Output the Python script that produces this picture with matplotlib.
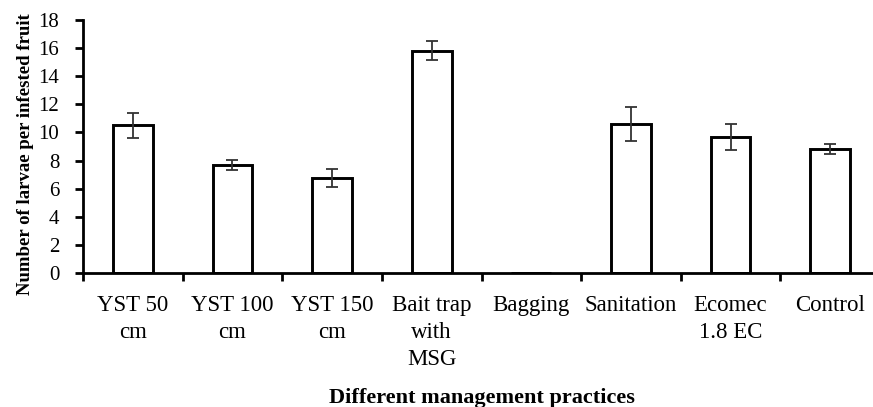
"""Larvae per infested fruit under different management practices"""
import matplotlib.pyplot as plt
import numpy as np

plt.rcParams["font.family"] = ["Liberation Serif", "DejaVu Serif"]

# data
practices = [
    "YST 50\ncm",
    "YST 100\ncm",
    "YST 150\ncm",
    "Bait trap\nwith\nMSG",
    "Bagging",
    "Sanitation",
    "Ecomec\n1.8 EC",
    "Control",
]
larvae = [10.5, 7.7, 6.75, 15.8, 0, 10.6, 9.7, 8.8]
errors = [0.9, 0.35, 0.63, 0.68, 0, 1.24, 0.93, 0.36]

fig = plt.figure(figsize=(8.73, 4.07), dpi=100)
ax = fig.add_axes([83 / 873, 1 - 273 / 407, 797 / 873, 253 / 407])

x = np.arange(len(practices))
ax.bar(x, larvae, width=0.4, color="white", edgecolor="black", linewidth=2.1)

# 誤差棒（値のある処理のみ）
has_err = np.array(errors) > 0
ax.errorbar(x[has_err], np.array(larvae)[has_err], yerr=np.array(errors)[has_err],
            fmt="none", ecolor="#333333", elinewidth=1.3, capsize=4.5, capthick=1.3)

ax.set_xlim(-0.5, 7.5)
ax.set_ylim(0, 18)
ax.set_yticks(range(0, 19, 2))
ax.set_xticks(x)
ax.set_xticklabels(practices, fontsize=16.5, linespacing=1.38)
ax.set_xticks(np.arange(-0.5, 8, 1), minor=True)
ax.tick_params(axis="x", which="major", length=0, pad=16)
ax.tick_params(axis="x", which="minor", length=6, width=2, direction="out")
ax.tick_params(axis="y", labelsize=15, length=6, width=2, direction="out", pad=11)

for side in ["top", "right"]:
    ax.spines[side].set_visible(False)
for side in ["left", "bottom"]:
    ax.spines[side].set_linewidth(2)

ax.set_ylabel("Number of larvae per infested fruit", fontsize=13.5,
              fontweight="bold")
ax.yaxis.set_label_coords(-0.062, 0.47)
ax.set_xlabel("Different management practices", fontsize=16,
              fontweight="bold")
ax.xaxis.set_label_coords(0.5, -0.455)

fig.savefig("out.png", dpi=100)
